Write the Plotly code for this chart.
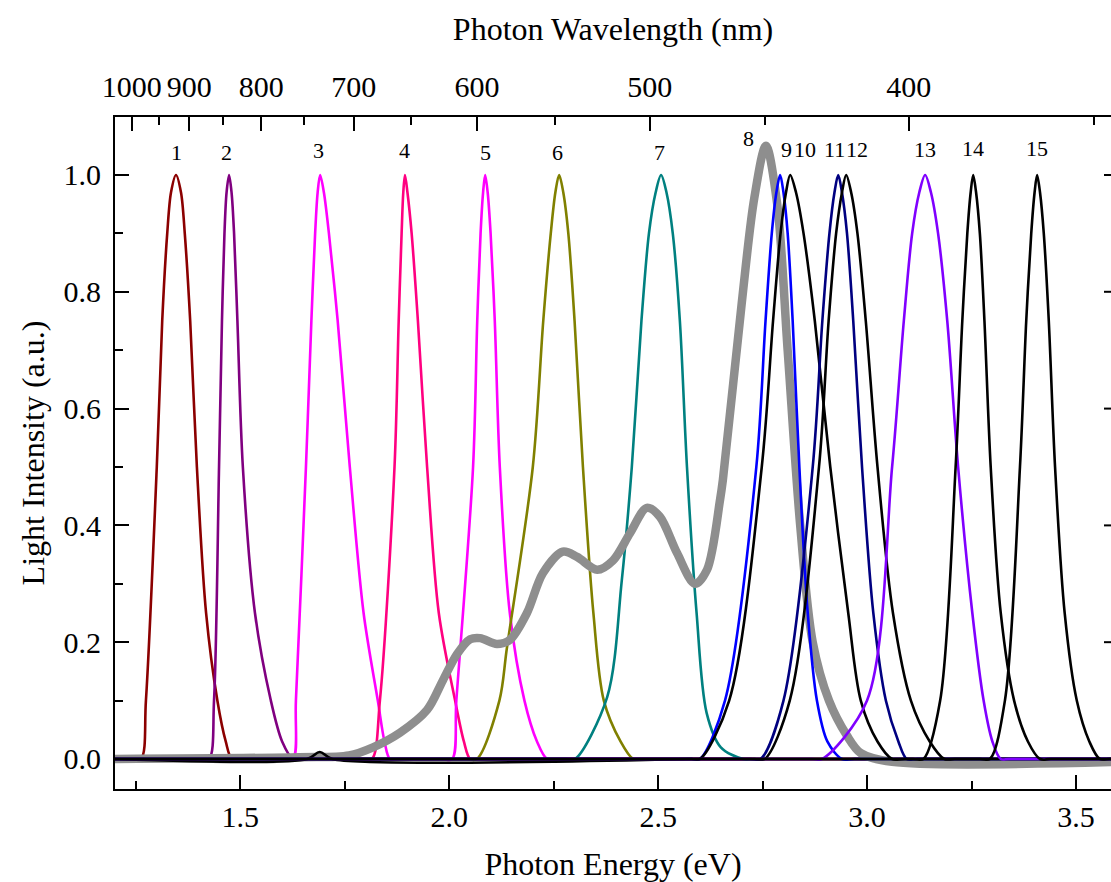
import plotly.graph_objects as go

HC = 1239.84  # photon energy (eV) times wavelength (nm)

# ---- filtered light spectra: photon energy (eV) and normalised intensity ----
s1_ev = [1.20, 1.235, 1.262, 1.274, 1.300, 1.313, 1.325, 1.334, 1.346, 1.358, 1.367, 1.380, 1.396, 1.418, 1.445, 1.465, 1.48, 1.51, 3.60]
s1_i = [0.0, 0.0, 0.0, 0.10, 0.50, 0.75, 0.90, 0.97, 1.00, 0.97, 0.90, 0.75, 0.50, 0.25, 0.10, 0.03, 0.0, 0.0, 0.0]

s2_ev = [1.20, 1.40, 1.425, 1.437, 1.449, 1.456, 1.462, 1.467, 1.473, 1.479, 1.485, 1.493, 1.506, 1.535, 1.573, 1.60, 1.626, 1.65, 3.60]
s2_i = [0.0, 0.0, 0.0, 0.10, 0.50, 0.75, 0.90, 0.97, 1.00, 0.97, 0.90, 0.75, 0.50, 0.25, 0.10, 0.03, 0.0, 0.0, 0.0]

s3_ev = [1.20, 1.60, 1.626, 1.633, 1.657, 1.670, 1.679, 1.685, 1.691, 1.700, 1.712, 1.733, 1.762, 1.795, 1.829, 1.845, 1.858, 1.88, 3.60]
s3_i = [0.0, 0.0, 0.0, 0.10, 0.50, 0.75, 0.90, 0.97, 1.00, 0.97, 0.90, 0.75, 0.50, 0.25, 0.10, 0.03, 0.0, 0.0, 0.0]

s4_ev = [1.20, 1.79, 1.815, 1.834, 1.869, 1.879, 1.886, 1.890, 1.894, 1.900, 1.910, 1.925, 1.947, 1.975, 2.014, 2.035, 2.05, 2.07, 3.60]
s4_i = [0.0, 0.0, 0.0, 0.10, 0.50, 0.75, 0.90, 0.97, 1.00, 0.97, 0.90, 0.75, 0.50, 0.25, 0.10, 0.03, 0.0, 0.0, 0.0]

s5_ev = [1.20, 1.98, 2.007, 2.017, 2.057, 2.067, 2.075, 2.081, 2.086, 2.092, 2.099, 2.109, 2.121, 2.145, 2.180, 2.210, 2.234, 2.26, 3.60]
s5_i = [0.0, 0.0, 0.0, 0.10, 0.50, 0.75, 0.90, 0.97, 1.00, 0.97, 0.90, 0.75, 0.50, 0.25, 0.10, 0.03, 0.0, 0.0, 0.0]

s6_ev = [1.20, 2.04, 2.066, 2.120, 2.138, 2.200, 2.225, 2.243, 2.254, 2.263, 2.273, 2.285, 2.300, 2.320, 2.345, 2.370, 2.410, 2.44, 2.46, 3.60]
s6_i = [0.0, 0.0, 0.0, 0.10, 0.19, 0.50, 0.75, 0.90, 0.97, 1.00, 0.97, 0.90, 0.75, 0.50, 0.25, 0.10, 0.03, 0.0, 0.0, 0.0]

s7_ev = [1.20, 2.28, 2.301, 2.378, 2.413, 2.437, 2.460, 2.478, 2.494, 2.507, 2.520, 2.535, 2.552, 2.569, 2.592, 2.616, 2.650, 2.703, 2.73, 3.60]
s7_i = [0.0, 0.0, 0.0, 0.106, 0.306, 0.50, 0.75, 0.90, 0.97, 1.00, 0.97, 0.90, 0.75, 0.50, 0.25, 0.079, 0.02, 0.0, 0.0, 0.0]

s8_ev = [1.20, 1.64, 1.76, 1.8175, 1.882, 1.947, 1.985, 2.019, 2.05, 2.074, 2.114, 2.145,
         2.186, 2.224, 2.272, 2.306, 2.354, 2.392, 2.433, 2.473, 2.504, 2.545, 2.588,
         2.617, 2.648, 2.655, 2.70, 2.73, 2.758, 2.785, 2.81, 2.84, 2.87, 2.909, 2.952,
         2.985, 3.06, 3.60]
s8_i = [0.0, 0.003, 0.006, 0.02, 0.045, 0.084, 0.135, 0.18, 0.205, 0.207, 0.197, 0.204,
        0.25, 0.318, 0.355, 0.346, 0.324, 0.34, 0.387, 0.43, 0.415, 0.353, 0.30,
        0.324, 0.443, 0.478, 0.78, 0.96, 1.05, 0.95, 0.70, 0.40, 0.20, 0.10, 0.04,
        0.01, -0.005, -0.005]

s9_ev = [1.20, 2.58, 2.60, 2.66, 2.735, 2.757, 2.772, 2.783, 2.792, 2.800, 2.810, 2.822, 2.838, 2.858, 2.880, 2.905, 2.94, 2.97, 3.60]
s9_i = [0.0, 0.0, 0.0, 0.10, 0.50, 0.75, 0.90, 0.97, 1.00, 0.97, 0.90, 0.75, 0.50, 0.25, 0.10, 0.03, 0.0, 0.0, 0.0]

s10_ev = [1.20, 1.66, 1.69, 1.72, 2.58, 2.60, 2.67, 2.748, 2.775, 2.793, 2.806, 2.816, 2.830, 2.848, 2.875, 2.912, 2.955, 2.985, 3.025, 3.06, 3.09, 3.60]
s10_i = [0.0, 0.0, 0.012, 0.0, 0.0, 0.0, 0.10, 0.50, 0.75, 0.90, 0.97, 1.00, 0.97, 0.90, 0.75, 0.50, 0.25, 0.10, 0.03, 0.0, 0.0, 0.0]

s11_ev = [1.20, 2.72, 2.745, 2.80, 2.870, 2.893, 2.910, 2.922, 2.931, 2.940, 2.952, 2.967, 2.988, 3.015, 3.045, 3.075, 3.095, 3.12, 3.60]
s11_i = [0.0, 0.0, 0.0, 0.10, 0.50, 0.75, 0.90, 0.97, 1.00, 0.97, 0.90, 0.75, 0.50, 0.25, 0.10, 0.03, 0.0, 0.0, 0.0]

s12_ev = [1.20, 2.73, 2.755, 2.815, 2.885, 2.908, 2.926, 2.940, 2.950, 2.962, 2.977, 2.997, 3.025, 3.062, 3.105, 3.150, 3.185, 3.21, 3.60]
s12_i = [0.0, 0.0, 0.0, 0.10, 0.50, 0.75, 0.90, 0.97, 1.00, 0.97, 0.90, 0.75, 0.50, 0.25, 0.10, 0.03, 0.0, 0.0, 0.0]

s13_ev = [1.20, 2.87, 2.892, 3.000, 3.060, 3.088, 3.108, 3.125, 3.139, 3.153, 3.170, 3.192, 3.218, 3.252, 3.279, 3.300, 3.320, 3.34, 3.60]
s13_i = [0.0, 0.0, 0.0, 0.10, 0.50, 0.75, 0.90, 0.97, 1.00, 0.97, 0.90, 0.75, 0.50, 0.25, 0.10, 0.03, 0.0, 0.0, 0.0]

s14_ev = [1.20, 3.11, 3.135, 3.175, 3.212, 3.228, 3.240, 3.248, 3.254, 3.261, 3.270, 3.281, 3.296, 3.320, 3.352, 3.385, 3.414, 3.44, 3.60]
s14_i = [0.0, 0.0, 0.0, 0.10, 0.50, 0.75, 0.90, 0.97, 1.00, 0.97, 0.90, 0.75, 0.50, 0.25, 0.10, 0.03, 0.0, 0.0, 0.0]

s15_ev = [1.20, 3.27, 3.294, 3.330, 3.366, 3.381, 3.393, 3.401, 3.407, 3.414, 3.423, 3.435, 3.450, 3.473, 3.502, 3.532, 3.557, 3.58, 3.60]
s15_i = [0.0, 0.0, 0.0, 0.10, 0.50, 0.75, 0.90, 0.97, 1.00, 0.97, 0.90, 0.75, 0.50, 0.25, 0.10, 0.03, 0.0, 0.0, 0.0]

# filter numbers printed above the peaks
label_text = ["1", "2", "3", "4", "5", "6", "7", "8", "9", "10", "11", "12", "13", "14", "15"]
label_ev = [1.346, 1.466, 1.688, 1.892, 2.086, 2.260, 2.504, 2.717, 2.808, 2.852,
            2.921, 2.976, 3.139, 3.254, 3.407]
label_y = [1.039, 1.039, 1.042, 1.042, 1.039, 1.039, 1.039, 1.062, 1.043, 1.043,
           1.043, 1.043, 1.043, 1.046, 1.046]

# wavelength scale on the top axis (nm)
wl_major = [1000, 900, 800, 700, 600, 500, 400]
wl_minor = [950, 850, 750, 650, 550, 450, 350]

x_range = [1.2, 3.5839]
y_range = [-0.0514, 1.0993]

FONT = "Liberation Serif, Times New Roman, serif"

colored = [
    (s1_ev, s1_i, "#8b0000"),
    (s2_ev, s2_i, "#800080"),
    (s3_ev, s3_i, "#ff00ff"),
    (s4_ev, s4_i, "#ff0080"),
    (s5_ev, s5_i, "#ff00ff"),
    (s6_ev, s6_i, "#808000"),
    (s7_ev, s7_i, "#008080"),
]
upper = [
    (s9_ev, s9_i, "#0000ff"),
    (s10_ev, s10_i, "#000000"),
    (s11_ev, s11_i, "#000080"),
    (s12_ev, s12_i, "#000000"),
    (s13_ev, s13_i, "#8000ff"),
    (s14_ev, s14_i, "#000000"),
    (s15_ev, s15_i, "#000000"),
]

fig = go.Figure()

def add_curve(xs, ys, color, width=2.6):
    fig.add_trace(go.Scatter(x=xs, y=ys, mode="lines",
                             line=dict(color=color, width=width, shape="spline", smoothing=0.9),
                             hoverinfo="skip", showlegend=False))

for xs, ys, c in colored:
    add_curve(xs, ys, c)
add_curve(s8_ev, s8_i, "#8e8e8e", width=8.5)
for xs, ys, c in upper:
    add_curve(xs, ys, c)

# carrier trace for the wavelength axis
fig.add_trace(go.Scatter(x=[HC / w for w in wl_major], y=[0] * len(wl_major), xaxis="x2",
                         mode="markers", marker=dict(opacity=0), hoverinfo="skip",
                         showlegend=False))

for t, xv, yv in zip(label_text, label_ev, label_y):
    fig.add_annotation(x=xv, y=yv, text=t, showarrow=False,
                       font=dict(family=FONT, size=22, color="black"))

# tick marks along the right edge
for v in [0.0, 0.2, 0.4, 0.6, 0.8, 1.0]:
    fig.add_shape(type="line", xref="paper", yref="y", x0=(1104 - 115) / 996, x1=1.0,
                  y0=v, y1=v, line=dict(color="black", width=2))

axis_common = dict(showline=True, linecolor="black", linewidth=2, ticks="inside",
                   ticklen=14, tickwidth=2, tickcolor="black", showgrid=False,
                   zeroline=False, tickfont=dict(family=FONT, size=30, color="black"))

fig.update_layout(
    width=1111, height=882,
    margin=dict(l=115, r=0, t=117, b=93),
    paper_bgcolor="white", plot_bgcolor="white",
    font=dict(family=FONT, color="black"),
    xaxis=dict(range=x_range, tickvals=[1.5, 2.0, 2.5, 3.0, 3.5],
               ticktext=["1.5", "2.0", "2.5", "3.0", "3.5"],
               minor=dict(tickvals=[1.25, 1.75, 2.25, 2.75, 3.25], ticks="inside",
                          ticklen=8, tickwidth=2, tickcolor="black"),
               title=dict(text="Photon Energy (eV)", font=dict(family=FONT, size=32),
                          standoff=21),
               **axis_common),
    xaxis2=dict(range=x_range, overlaying="x", side="top", anchor="y",
                tickvals=[HC / w for w in wl_major], ticktext=[str(w) for w in wl_major],
                minor=dict(tickvals=[HC / w for w in wl_minor], ticks="inside",
                           ticklen=8, tickwidth=2, tickcolor="black"),
                ticklabelstandoff=6,
                title=dict(text="Photon Wavelength (nm)", font=dict(family=FONT, size=32),
                           standoff=20),
                **axis_common),
    yaxis=dict(range=y_range, tickvals=[0.0, 0.2, 0.4, 0.6, 0.8, 1.0],
               ticktext=["0.0", "0.2", "0.4", "0.6", "0.8", "1.0"],
               minor=dict(tickvals=[0.1, 0.3, 0.5, 0.7, 0.9], ticks="inside",
                          ticklen=8, tickwidth=2, tickcolor="black"),
               ticklabelstandoff=6,
               title=dict(text="Light Intensity (a.u.)", font=dict(family=FONT, size=32),
                          standoff=9),
               **axis_common),
)

fig.write_html("out.html")
